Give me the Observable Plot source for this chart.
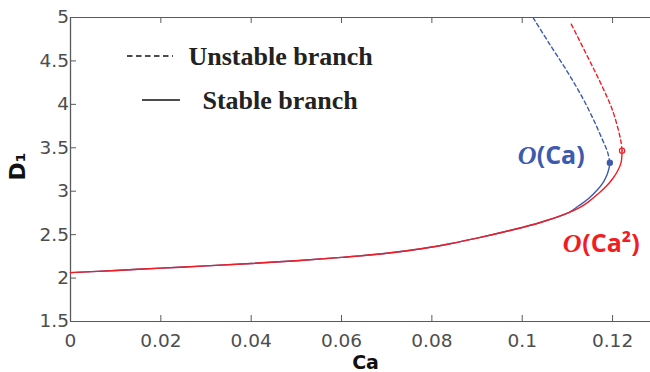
<!DOCTYPE html>
<html><head><meta charset="utf-8">
<script src="https://cdn.jsdelivr.net/npm/d3@7"></script>
<script src="https://cdn.jsdelivr.net/npm/@observablehq/plot@0.6"></script>
<style>
body{margin:0;background:#fff;}
#chart{position:relative;width:650px;height:372px;overflow:hidden;}
</style></head><body><div id="chart"></div>
<script>
// ---- data ----
const xTicks = [0, 0.02, 0.04, 0.06, 0.08, 0.1, 0.12];
const yTicks = [1.5, 2, 2.5, 3, 3.5, 4, 4.5, 5];
const xDomain = [0, 0.1284];
const yDomain = [1.5, 5];

// shared lower stable branch (both approximations coincide)
const commonCa = [0, 0.01, 0.02, 0.03, 0.04, 0.05, 0.06, 0.07, 0.078, 0.084, 0.09, 0.097, 0.104, 0.1103];
const commonD  = [2.063, 2.088, 2.115, 2.14, 2.168, 2.20, 2.238, 2.285, 2.34, 2.395, 2.46, 2.545, 2.64, 2.754];

// O(Ca): stable tail and unstable branch
const blueStableCa = [0.1126, 0.1147, 0.1165, 0.1179, 0.1188, 0.1193, 0.1194];
const blueStableD  = [2.835, 2.916, 3.008, 3.100, 3.192, 3.285, 3.328];
const blueUnstableCa = [0.1194, 0.1189, 0.1177, 0.1160, 0.1131, 0.1097, 0.1060, 0.1025];
const blueUnstableD  = [3.328, 3.45, 3.60, 3.80, 4.10, 4.40, 4.70, 4.99];

// O(Ca^2): stable tail and unstable branch
const redStableCa = [0.1128, 0.1145, 0.1167, 0.1186, 0.1201, 0.1212, 0.1219, 0.1221];
const redStableD  = [2.814, 2.872, 2.964, 3.056, 3.149, 3.241, 3.333, 3.466];
const redUnstableCa = [0.1221, 0.1219, 0.1215, 0.1200, 0.1174, 0.1145, 0.1106];
const redUnstableD  = [3.466, 3.56, 3.66, 3.93, 4.24, 4.546, 4.95];

// turning points
const turnCa = [0.1194, 0.1221];
const turnD  = [3.328, 3.466];
const turnSeries = ["O(Ca)", "O(Ca²)"];

// annotation labels
const labelNames = ["O(Ca)", "O(Ca²)"];
const labelText  = ["(Ca)", "(Ca²)"];
const labelOCa   = [0.0990, 0.1090];
const labelTextCa= [0.1032, 0.1133];
const labelD     = [3.41, 2.393];

const legendText = ["Unstable branch", "Stable branch"];

const BLUE = "#3d5aae", RED = "#f21c24";
const colorOf = {"O(Ca)": BLUE, "O(Ca²)": RED};

const zip = (xs, ys) => xs.map((x, i) => ({Ca: x, D: ys[i]}));
const blueStable = [...zip(commonCa, commonD), ...zip(blueStableCa, blueStableD)];
const redStable  = [...zip(commonCa, commonD), ...zip(redStableCa, redStableD)];
const blueUnstable = zip(blueUnstableCa, blueUnstableD);
const redUnstable  = zip(redUnstableCa, redUnstableD);
const turns = turnCa.map((c, i) => ({Ca: c, D: turnD[i], s: turnSeries[i]}));
const labels = labelNames.map((n, i) => ({name: n, txt: labelText[i], oCa: labelOCa[i], tCa: labelTextCa[i], D: labelD[i]}));

const W = 650, H = 372, mL = 70, mR = 0, mT = 17, mB = 51;
const tickPx = 6;
const yTL = (yDomain[1] - yDomain[0]) * tickPx / (H - mT - mB);
const xTL = (xDomain[1] - xDomain[0]) * tickPx / (W - mL - mR);
const AX = "#5a5a5a";

const legendY = [56, 100];

const legendMark = () => {
  const g = d3.create("svg:g");
  g.append("line").attr("x1", 127).attr("x2", 173).attr("y1", legendY[0]).attr("y2", legendY[0])
    .attr("stroke", "#111").attr("stroke-width", 1.3).attr("stroke-dasharray", "5.5,3.5");
  g.append("line").attr("x1", 142).attr("x2", 180).attr("y1", legendY[1]).attr("y2", legendY[1])
    .attr("stroke", "#111").attr("stroke-width", 1.5);
  return g.node();
};

const chart = Plot.plot({
  width: W, height: H,
  marginLeft: mL, marginRight: mR, marginTop: mT, marginBottom: mB,
  style: {fontFamily: "DejaVu Sans", fontSize: "18.5px", color: "#4d4d4d", background: "#fff"},
  x: {domain: xDomain, ticks: xTicks, tickFormat: d => String(d)},
  y: {domain: yDomain, ticks: yTicks, tickFormat: d => String(d)},
  marks: [
    Plot.axisX(xTicks, {tickSize: 0, tickPadding: 12, label: null, tickFormat: d => String(d)}),
    Plot.axisY(yTicks, {tickSize: 0, tickPadding: 1.5, label: null, tickFormat: d => String(d)}),
    // box lines
    Plot.ruleY([yDomain[1]], {stroke: AX, strokeWidth: 1.2}),
    Plot.ruleY([yDomain[0]], {stroke: AX, strokeWidth: 1.2}),
    Plot.ruleX([xDomain[0]], {stroke: AX, strokeWidth: 1.3}),
    // inward ticks
    Plot.ruleX(xTicks, {x: d => d, y1: yDomain[0], y2: yDomain[0] + yTL, stroke: AX}),
    Plot.ruleX(xTicks, {x: d => d, y1: yDomain[1], y2: yDomain[1] - yTL, stroke: AX}),
    Plot.ruleY(yTicks, {y: d => d, x1: xDomain[0], x2: xDomain[0] + xTL, stroke: AX}),
    // curves
    Plot.line(blueStable, {x: "Ca", y: "D", stroke: BLUE, strokeWidth: 1.4, curve: "catmull-rom"}),
    Plot.line(redStable, {x: "Ca", y: "D", stroke: RED, strokeWidth: 1.4, curve: "catmull-rom"}),
    Plot.line(blueUnstable, {x: "Ca", y: "D", stroke: BLUE, strokeWidth: 1.4, strokeDasharray: "4,3", curve: "catmull-rom"}),
    Plot.line(redUnstable, {x: "Ca", y: "D", stroke: RED, strokeWidth: 1.4, strokeDasharray: "4,3", curve: "catmull-rom"}),
    Plot.dot(turns, {x: "Ca", y: "D", r: 2.6, stroke: d => colorOf[d.s], fill: d => d.s === "O(Ca)" ? BLUE : "none", strokeWidth: 1.2}),
    // annotations
    Plot.text(labels, {x: "oCa", y: "D", text: () => "O", textAnchor: "start", fill: d => colorOf[d.name],
      fontFamily: "Liberation Serif", fontStyle: "italic", fontWeight: "bold", fontSize: 26}),
    Plot.text(labels, {x: "tCa", y: "D", text: "txt", textAnchor: "start", fill: d => colorOf[d.name],
      fontFamily: "Open Sans", fontWeight: "bold", fontSize: 25}),
    // axis titles
    Plot.text(["Ca"], {frameAnchor: "bottom", text: d => d, dx: 5, dy: 34, lineAnchor: "top", textAnchor: "middle",
      fontWeight: "bold", fontSize: 19, fill: "#111"}),
    Plot.text(["D₁"], {frameAnchor: "left", text: d => d, rotate: -90, dx: -53, dy: -3, textAnchor: "middle", lineAnchor: "middle",
      fontWeight: "bold", fontSize: 22, fill: "#111"}),
    // legend
    Plot.text([legendText[0]], {frameAnchor: "top-left", text: d => d, dx: 118, dy: legendY[0] - mT, textAnchor: "start", lineAnchor: "middle",
      fontFamily: "Liberation Serif", fontWeight: "bold", fontSize: 26, fill: "#222"}),
    Plot.text([legendText[1]], {frameAnchor: "top-left", text: d => d, dx: 132, dy: legendY[1] - mT, textAnchor: "start", lineAnchor: "middle",
      fontFamily: "Liberation Serif", fontWeight: "bold", fontSize: 26, fill: "#222"}),
    legendMark
  ]
});
document.getElementById("chart").appendChild(chart);
</script></body></html>
